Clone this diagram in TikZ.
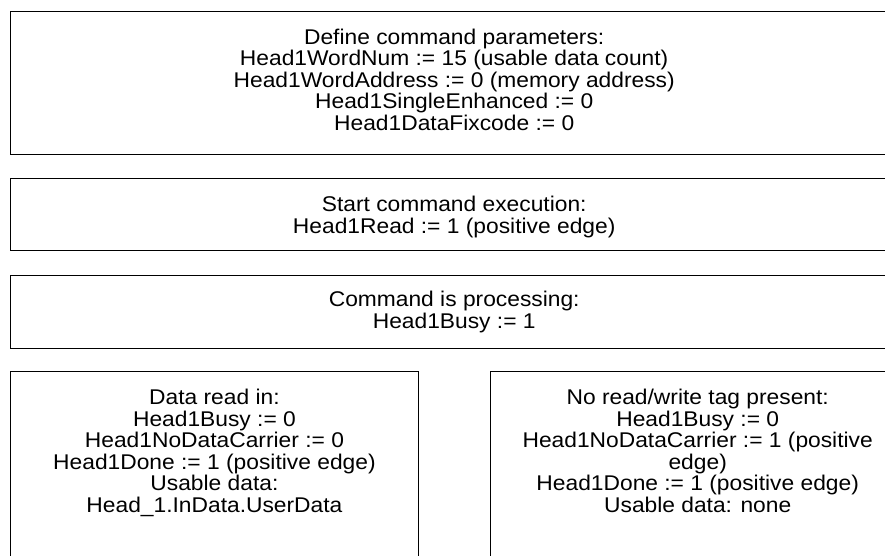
\documentclass[tikz,border=0pt]{standalone}
\usepackage{fontspec}
\setmainfont{Liberation Sans}[FakeStretch=1.07]
\begin{document}
\begin{tikzpicture}[x=1pt,y=-1pt,
  box/.style={draw=black, line width=1.4pt, rectangle, inner sep=0pt},
  txt/.style={align=center, inner sep=0pt, font=\fontsize{21.3}{21.5}\selectfont}]
\useasboundingbox (0,0) rectangle (885,555);
\clip (0,0) rectangle (885,555);
% boxes
\node[box, anchor=north west, minimum width=888pt, minimum height=143.5pt] (def) at (9.5,10.5) {};
\node[box, anchor=north west, minimum width=888pt, minimum height=72pt] (start) at (9.5,178) {};
\node[box, anchor=north west, minimum width=888pt, minimum height=73pt] (proc) at (9.5,274.5) {};
\node[box, anchor=north west, minimum width=408.5pt, minimum height=260pt] (read) at (9.5,371) {};
\node[box, anchor=north west, minimum width=414pt, minimum height=260pt] (none) at (490,371) {};
% texts
\node[txt] (deftxt) at ([yshift=3.5pt]def.center) {Define command parameters:\\
Head1WordNum := 15 (usable data count)\\
Head1WordAddress := 0 (memory address)\\
Head1SingleEnhanced := 0\\
Head1DataFixcode := 0};
\node[txt] (starttxt) at ([yshift=-2.5pt]start.center) {Start command execution:\\
Head1Read := 1 (positive edge)};
\node[txt] (proctxt) at ([yshift=-0.5pt]proc.center) {Command is processing:\\
Head1Busy := 1};
\node[txt, anchor=north] (readtxt) at ([yshift=-18pt]read.north) {Data read in:\\
Head1Busy := 0\\
Head1NoDataCarrier := 0\\
Head1Done := 1 (positive edge)\\
Usable data:\\
Head\_1.InData.UserData};
\node[txt, anchor=north] (nonetxt) at ([yshift=-18pt]none.north) {No read/write tag present:\\
Head1Busy := 0\\
Head1NoDataCarrier := 1 (positive\\
edge)\\
Head1Done := 1 (positive edge)\\
Usable data: none};
\end{tikzpicture}
\end{document}
